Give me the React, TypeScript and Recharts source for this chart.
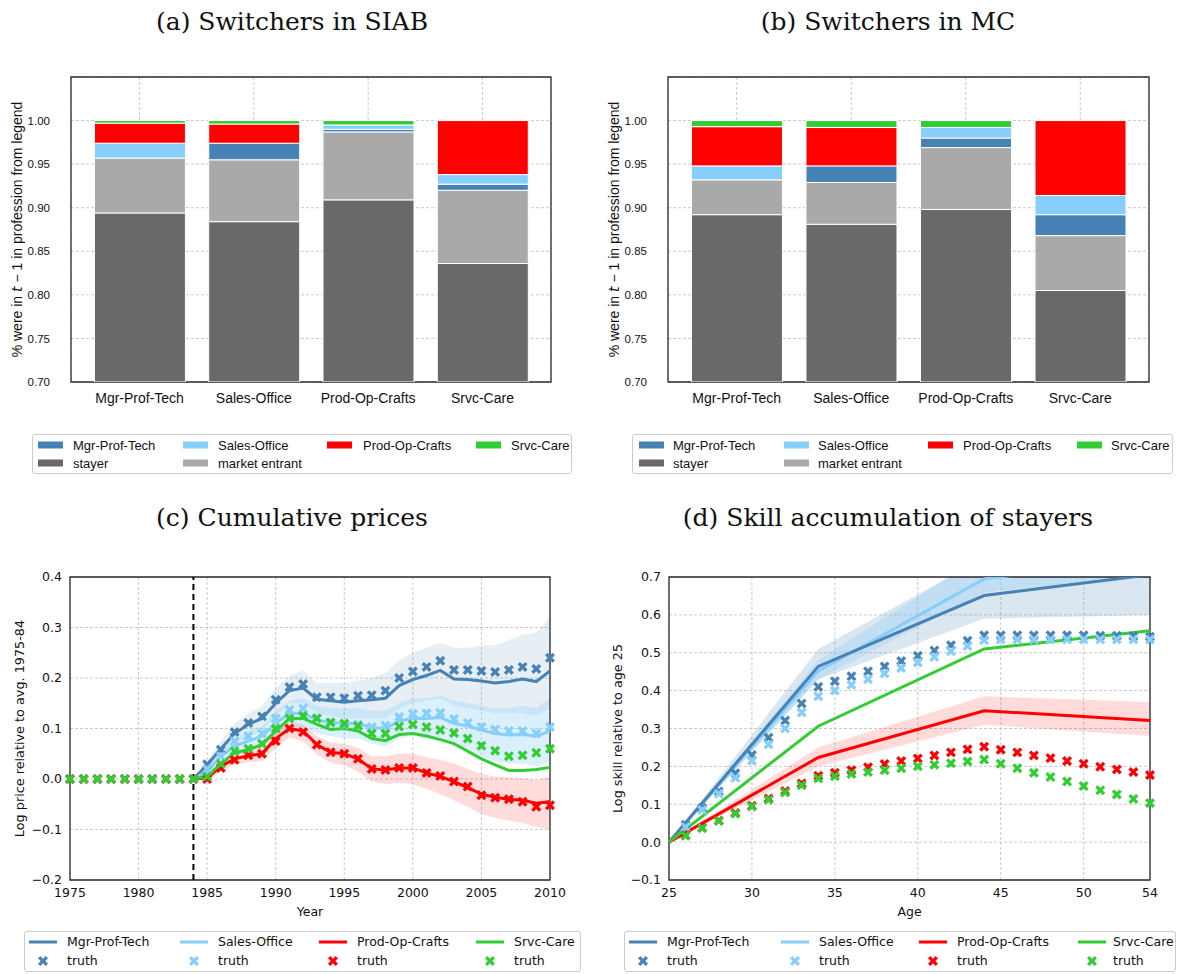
import React from 'react';
import {
  BarChart,
  Bar,
  ComposedChart,
  Line,
  Area,
  XAxis,
  YAxis,
  CartesianGrid,
  ReferenceArea,
  ReferenceLine,
} from 'recharts';

const STEEL = '#4682b4';
const SKY = '#87cefa';
const RED = '#ff0000';
const LIME = '#32cd32';
const DIM = '#696969';
const DARK = '#a9a9a9';

const SANS = '"Liberation Sans", Arial, sans-serif';
const DEJA = '"DejaVu Sans", sans-serif';
const SERIF = '"DejaVu Serif", serif';

// ---- (a)/(b) share of switchers by origin, one value per occupation ----
const occupations = ['Mgr-Prof-Tech', 'Sales-Office', 'Prod-Op-Crafts', 'Srvc-Care'];
const shareTicks = [0.7, 0.75, 0.8, 0.85, 0.9, 0.95, 1.0];

const siabStayer = [0.894, 0.884, 0.909, 0.836];
const siabEntrant = [0.063, 0.071, 0.078, 0.084];
const siabMgr = [0, 0.019, 0.003, 0.007];
const siabSales = [0.017, 0, 0.005, 0.011];
const siabProd = [0.023, 0.022, 0, 0.062];
const siabSrvc = [0.003, 0.004, 0.005, 0];

const mcStayer = [0.892, 0.881, 0.898, 0.805];
const mcEntrant = [0.04, 0.048, 0.071, 0.063];
const mcMgr = [0, 0.019, 0.011, 0.024];
const mcSales = [0.016, 0, 0.012, 0.022];
const mcProd = [0.045, 0.044, 0, 0.086];
const mcSrvc = [0.007, 0.008, 0.008, 0];

// ---- (c) cumulative prices ----
const years = [
  1975, 1976, 1977, 1978, 1979, 1980, 1981, 1982, 1983, 1984, 1985, 1986, 1987, 1988, 1989, 1990, 1991, 1992,
  1993, 1994, 1995, 1996, 1997, 1998, 1999, 2000, 2001, 2002, 2003, 2004, 2005, 2006, 2007, 2008, 2009, 2010,
];
const yearTicks = [1975, 1980, 1985, 1990, 1995, 2000, 2005, 2010];
const priceTicks = [-0.2, -0.1, 0, 0.1, 0.2, 0.3, 0.4];

const mgrPriceTruth = [
  0, 0, 0, 0, 0, 0, 0, 0, 0, 0, 0.029, 0.058, 0.093, 0.111, 0.124, 0.157, 0.182, 0.188, 0.162, 0.162, 0.16,
  0.165, 0.166, 0.175, 0.2, 0.213, 0.222, 0.234, 0.216, 0.216, 0.214, 0.212, 0.216, 0.222, 0.218, 0.24,
];
const salesPriceTruth = [
  0, 0, 0, 0, 0, 0, 0, 0, 0, 0, 0.02, 0.045, 0.075, 0.085, 0.09, 0.12, 0.137, 0.14, 0.121, 0.112, 0.108, 0.108,
  0.103, 0.106, 0.123, 0.129, 0.13, 0.131, 0.119, 0.111, 0.103, 0.098, 0.095, 0.095, 0.09, 0.103,
];
const prodPriceTruth = [
  0, 0, 0, 0, 0, 0, 0, 0, 0, 0, 0.0, 0.022, 0.038, 0.047, 0.05, 0.075, 0.1, 0.093, 0.068, 0.053, 0.05, 0.04,
  0.02, 0.018, 0.022, 0.022, 0.012, 0.006, -0.005, -0.015, -0.032, -0.037, -0.04, -0.045, -0.055, -0.052,
];
const srvcPriceTruth = [
  0, 0, 0, 0, 0, 0, 0, 0, 0, 0, 0.005, 0.03, 0.055, 0.06, 0.07, 0.1, 0.12, 0.125, 0.12, 0.112, 0.11, 0.105,
  0.09, 0.09, 0.104, 0.108, 0.103, 0.097, 0.091, 0.08, 0.066, 0.056, 0.045, 0.047, 0.052, 0.06,
];

// model estimates start in 1984
const modelYears = years.slice(years.indexOf(1984));
const mgrPrice = [
  0, 0.028, 0.06, 0.09, 0.108, 0.12, 0.15, 0.175, 0.18, 0.158, 0.155, 0.152, 0.155, 0.157, 0.16, 0.185, 0.197,
  0.205, 0.215, 0.198, 0.197, 0.194, 0.19, 0.193, 0.198, 0.193, 0.214,
];
const salesPrice = [
  0, 0.015, 0.045, 0.065, 0.075, 0.085, 0.11, 0.13, 0.13, 0.117, 0.112, 0.11, 0.11, 0.102, 0.1, 0.115, 0.12,
  0.12, 0.122, 0.11, 0.105, 0.097, 0.09, 0.087, 0.088, 0.085, 0.095,
];
const prodPrice = [
  0, 0.002, 0.025, 0.04, 0.046, 0.05, 0.08, 0.1, 0.095, 0.068, 0.053, 0.05, 0.04, 0.02, 0.018, 0.022, 0.022,
  0.012, 0.005, -0.005, -0.017, -0.03, -0.036, -0.04, -0.042, -0.048, -0.045,
];
const srvcPrice = [
  0, 0.005, 0.03, 0.052, 0.058, 0.068, 0.095, 0.12, 0.12, 0.108, 0.098, 0.1, 0.095, 0.08, 0.076, 0.088, 0.09,
  0.085, 0.078, 0.07, 0.055, 0.04, 0.028, 0.017, 0.017, 0.019, 0.023,
];
// bootstrap spread (envelope of the faint lines)
const mgrPriceHi = [
  0, 0.035, 0.075, 0.11, 0.13, 0.145, 0.18, 0.205, 0.215, 0.19, 0.19, 0.19, 0.195, 0.2, 0.21, 0.235, 0.25, 0.26,
  0.27, 0.26, 0.26, 0.265, 0.265, 0.275, 0.285, 0.29, 0.32,
];
const mgrPriceLo = [
  0, 0.02, 0.045, 0.07, 0.085, 0.095, 0.125, 0.15, 0.15, 0.13, 0.125, 0.12, 0.12, 0.12, 0.12, 0.14, 0.15, 0.155,
  0.16, 0.145, 0.14, 0.135, 0.13, 0.13, 0.13, 0.125, 0.14,
];
const salesPriceHi = [
  0, 0.025, 0.055, 0.08, 0.095, 0.105, 0.135, 0.155, 0.16, 0.145, 0.14, 0.14, 0.14, 0.135, 0.135, 0.15, 0.16,
  0.16, 0.165, 0.155, 0.15, 0.145, 0.14, 0.14, 0.145, 0.14, 0.16,
];
const salesPriceLo = [
  0, 0.005, 0.03, 0.05, 0.06, 0.065, 0.085, 0.105, 0.1, 0.09, 0.085, 0.08, 0.08, 0.07, 0.065, 0.08, 0.085, 0.08,
  0.08, 0.065, 0.055, 0.045, 0.035, 0.03, 0.03, 0.025, 0.035,
];
const prodPriceHi = [
  0, 0.01, 0.035, 0.052, 0.06, 0.066, 0.095, 0.112, 0.108, 0.085, 0.072, 0.07, 0.062, 0.045, 0.045, 0.05, 0.05,
  0.043, 0.038, 0.03, 0.02, 0.01, 0.005, 0.003, 0.002, -0.002, 0.005,
];
const prodPriceLo = [
  0, -0.005, 0.015, 0.028, 0.033, 0.035, 0.062, 0.082, 0.075, 0.048, 0.032, 0.027, 0.015, -0.005, -0.01, -0.008,
  -0.01, -0.02, -0.03, -0.042, -0.055, -0.07, -0.077, -0.082, -0.087, -0.095, -0.1,
];

// ---- (d) skill accumulation ----
const ages = [
  25, 26, 27, 28, 29, 30, 31, 32, 33, 34, 35, 36, 37, 38, 39, 40, 41, 42, 43, 44, 45, 46, 47, 48, 49, 50, 51, 52, 53, 54,
];
const ageTicks = [25, 30, 35, 40, 45, 50, 54];
const skillTicks = [-0.1, 0, 0.1, 0.2, 0.3, 0.4, 0.5, 0.6, 0.7];

const mgrSkillTruth = [
  null, 0.046, 0.09, 0.134, 0.182, 0.23, 0.276, 0.321, 0.366, 0.41, 0.425, 0.438, 0.451, 0.464, 0.478, 0.492,
  0.506, 0.52, 0.532, 0.546, 0.546, 0.546, 0.546, 0.546, 0.546, 0.546, 0.545, 0.545, 0.544, 0.542,
];
const salesSkillTruth = [
  null, 0.04, 0.085, 0.128, 0.17, 0.215, 0.258, 0.3, 0.342, 0.385, 0.4, 0.415, 0.43, 0.445, 0.46, 0.474, 0.489,
  0.504, 0.518, 0.533, 0.535, 0.535, 0.535, 0.535, 0.535, 0.535, 0.535, 0.535, 0.535, 0.535,
];
const prodSkillTruth = [
  null, 0.018, 0.038, 0.057, 0.077, 0.096, 0.115, 0.135, 0.155, 0.175, 0.183, 0.19, 0.198, 0.206, 0.214, 0.221,
  0.229, 0.237, 0.245, 0.252, 0.244, 0.237, 0.229, 0.222, 0.214, 0.207, 0.199, 0.192, 0.185, 0.177,
];
const srvcSkillTruth = [
  null, 0.017, 0.037, 0.056, 0.075, 0.094, 0.112, 0.131, 0.15, 0.168, 0.174, 0.18, 0.185, 0.19, 0.195, 0.2,
  0.204, 0.208, 0.213, 0.218, 0.207, 0.195, 0.183, 0.172, 0.16, 0.148, 0.137, 0.126, 0.114, 0.103,
];

// the estimated profiles are piecewise linear with knots at these ages
const skillKnots = [25, 34, 44, 54];
const mgrSkill = [0, 0.464, 0.651, 0.706];
const salesSkill = [0, 0.452, 0.695, 0.75];
const prodSkill = [0, 0.2235, 0.347, 0.321];
const srvcSkill = [0, 0.306, 0.51, 0.558];
const mgrSkillHi = [0, 0.51, 0.75, 0.8];
const mgrSkillLo = [0, 0.43, 0.59, 0.6];
const salesSkillHi = [0, 0.48, 0.76, 0.82];
const salesSkillLo = [0, 0.43, 0.66, 0.7];
const prodSkillHi = [0, 0.25, 0.385, 0.37];
const prodSkillLo = [0, 0.2, 0.31, 0.28];

// ---- tables for recharts ----
const siabRows = occupations.map((name, i) => ({
  x: i,
  name,
  stayer: siabStayer[i],
  entrant: siabEntrant[i],
  mgr: siabMgr[i],
  sales: siabSales[i],
  prod: siabProd[i],
  srvc: siabSrvc[i],
}));
const mcRows = occupations.map((name, i) => ({
  x: i,
  name,
  stayer: mcStayer[i],
  entrant: mcEntrant[i],
  mgr: mcMgr[i],
  sales: mcSales[i],
  prod: mcProd[i],
  srvc: mcSrvc[i],
}));

const priceTruthRows = years.map((year, i) => ({
  year,
  mgr: mgrPriceTruth[i],
  sales: salesPriceTruth[i],
  prod: prodPriceTruth[i],
  srvc: srvcPriceTruth[i],
}));
const priceModelRows = modelYears.map((year, i) => ({
  year,
  mgr: mgrPrice[i],
  sales: salesPrice[i],
  prod: prodPrice[i],
  srvc: srvcPrice[i],
  mgrBand: [mgrPriceLo[i], mgrPriceHi[i]],
  salesBand: [salesPriceLo[i], salesPriceHi[i]],
  prodBand: [prodPriceLo[i], prodPriceHi[i]],
}));

const skillTruthRows = ages.map((age, i) => ({
  age,
  mgr: mgrSkillTruth[i],
  sales: salesSkillTruth[i],
  prod: prodSkillTruth[i],
  srvc: srvcSkillTruth[i],
}));
const skillModelRows = skillKnots.map((age, i) => ({
  age,
  mgr: mgrSkill[i],
  sales: salesSkill[i],
  prod: prodSkill[i],
  srvc: srvcSkill[i],
  mgrBand: [mgrSkillLo[i], mgrSkillHi[i]],
  salesBand: [salesSkillLo[i], salesSkillHi[i]],
  prodBand: [prodSkillLo[i], prodSkillHi[i]],
}));

// filled "X" marker, i.e. a plus sign turned by 45 degrees
const crossPoints = (cx: number, cy: number, r = 5.4, w = 1.65) => {
  const pts = [
    [-w, -r], [w, -r], [w, -w], [r, -w], [r, w], [w, w],
    [w, r], [-w, r], [-w, w], [-r, w], [-r, -w], [-w, -w],
  ];
  return pts
    .map(([x, y]) => `${(cx + (x - y) * Math.SQRT1_2).toFixed(2)},${(cy + (x + y) * Math.SQRT1_2).toFixed(2)}`)
    .join(' ');
};

const crossDot = (color: string) => (props: any) => {
  const { cx, cy, index, value } = props;
  if (cx == null || cy == null || value == null) return <g key={`n-${index}`} />;
  return <polygon key={`x-${index}`} points={crossPoints(cx, cy)} fill={color} />;
};

const YTitle = (props: any) => {
  const { viewBox, dx = 0, font, size, children } = props;
  const vb = viewBox || { x: 0, y: 0, width: 0, height: 0 };
  const x = vb.x + dx;
  const y = vb.y + vb.height / 2;
  return (
    <text
      x={x}
      y={y}
      transform={`rotate(-90 ${x} ${y})`}
      textAnchor="middle"
      dominantBaseline="central"
      fontFamily={font}
      fontSize={size}
      fill="#111"
    >
      {children}
    </text>
  );
};

const shareTitle = (
  <YTitle dx={1} font={SANS} size={14}>
    % were in <tspan fontStyle="italic" fontFamily={DEJA}>t</tspan> − 1 in profession from legend
  </YTitle>
);

const gridProps = { stroke: '#bdbdbd', strokeDasharray: '3 2', strokeWidth: 0.8 };
const frameProps = { fill: 'none', stroke: '#2b2b2b', strokeWidth: 1.3, ifOverflow: 'visible' as const };

type LegendEntry = { label: string; color: string; kind: 'patch' | 'line' | 'cross'; col: number; row: number };

const shareLegend: LegendEntry[] = [
  { label: 'Mgr-Prof-Tech', color: STEEL, kind: 'patch', col: 0, row: 0 },
  { label: 'stayer', color: DIM, kind: 'patch', col: 0, row: 1 },
  { label: 'Sales-Office', color: SKY, kind: 'patch', col: 1, row: 0 },
  { label: 'market entrant', color: DARK, kind: 'patch', col: 1, row: 1 },
  { label: 'Prod-Op-Crafts', color: RED, kind: 'patch', col: 2, row: 0 },
  { label: 'Srvc-Care', color: LIME, kind: 'patch', col: 3, row: 0 },
];
const lineLegend: LegendEntry[] = [
  { label: 'Mgr-Prof-Tech', color: STEEL, kind: 'line', col: 0, row: 0 },
  { label: 'truth', color: STEEL, kind: 'cross', col: 0, row: 1 },
  { label: 'Sales-Office', color: SKY, kind: 'line', col: 1, row: 0 },
  { label: 'truth', color: SKY, kind: 'cross', col: 1, row: 1 },
  { label: 'Prod-Op-Crafts', color: RED, kind: 'line', col: 2, row: 0 },
  { label: 'truth', color: RED, kind: 'cross', col: 2, row: 1 },
  { label: 'Srvc-Care', color: LIME, kind: 'line', col: 3, row: 0 },
  { label: 'truth', color: LIME, kind: 'cross', col: 3, row: 1 },
];

function BoxLegend(props: {
  left: number;
  top: number;
  width: number;
  height: number;
  entries: LegendEntry[];
  handleX: number[];
  textX: number[];
  rowY: number[];
  handleW: number;
  font: string;
  fontSize: number;
}) {
  const { left, top, width, height, entries, handleX, textX, rowY, handleW, font, fontSize } = props;
  return (
    <div
      style={{
        position: 'absolute',
        left,
        top,
        width,
        height,
        border: '1px solid #cccccc',
        borderRadius: 3,
        background: '#fff',
        boxSizing: 'border-box',
      }}
    >
      {entries.map((e) => (
        <React.Fragment key={`${e.label}-${e.col}-${e.row}`}>
          <svg
            width={handleW}
            height={14}
            style={{ position: 'absolute', left: handleX[e.col], top: rowY[e.row] - 7, overflow: 'visible' }}
          >
            {e.kind === 'patch' && <rect x={0} y={3.5} width={handleW} height={7} fill={e.color} />}
            {e.kind === 'line' && <line x1={0} x2={handleW} y1={7} y2={7} stroke={e.color} strokeWidth={3} />}
            {e.kind === 'cross' && <polygon points={crossPoints(handleW / 2, 7)} fill={e.color} />}
          </svg>
          <span
            style={{
              position: 'absolute',
              left: textX[e.col],
              top: rowY[e.row],
              transform: 'translateY(-50%)',
              fontFamily: font,
              fontSize,
              lineHeight: 1,
              whiteSpace: 'nowrap',
              color: '#111',
            }}
          >
            {e.label}
          </span>
        </React.Fragment>
      ))}
    </div>
  );
}

function Title({ center, top, text }: { center: number; top: number; text: string }) {
  return (
    <div
      style={{
        position: 'absolute',
        left: center - 300,
        top,
        width: 600,
        textAlign: 'center',
        fontFamily: SERIF,
        fontSize: 25,
        lineHeight: '30px',
        color: '#111',
        whiteSpace: 'nowrap',
      }}
    >
      {text}
    </div>
  );
}

function SharePanel({ rows, left, marginLeft, marginRight, width }: any) {
  return (
    <div style={{ position: 'absolute', left, top: 60 }}>
      <BarChart
        width={width}
        height={360}
        data={rows}
        margin={{ top: 17, right: marginRight, bottom: 0, left: marginLeft }}
      >
        <CartesianGrid {...gridProps} />
        <XAxis
          dataKey="x"
          type="number"
          domain={[-0.6, 3.6]}
          ticks={[0, 1, 2, 3]}
          tickFormatter={(v: number) => occupations[v] ?? ''}
          height={38}
          tickSize={0}
          tickMargin={11}
          axisLine={false}
          tick={{ fontFamily: SANS, fontSize: 14, fill: '#111' }}
          allowDataOverflow
        />
        <YAxis
          type="number"
          domain={[0.7, 1.05]}
          ticks={shareTicks}
          tickFormatter={(v: number) => v.toFixed(2)}
          width={55}
          tickSize={0}
          tickMargin={21}
          axisLine={false}
          allowDataOverflow
          tick={{ fontFamily: SANS, fontSize: 11.5, fill: '#111' }}
          label={shareTitle}
        />
        <Bar dataKey="stayer" stackId="s" fill={DIM} stroke="#fff" strokeWidth={1} barSize={91} isAnimationActive={false} />
        <Bar dataKey="entrant" stackId="s" fill={DARK} stroke="#fff" strokeWidth={1} barSize={91} isAnimationActive={false} />
        <Bar dataKey="mgr" stackId="s" fill={STEEL} stroke="#fff" strokeWidth={1} barSize={91} isAnimationActive={false} />
        <Bar dataKey="sales" stackId="s" fill={SKY} stroke="#fff" strokeWidth={1} barSize={91} isAnimationActive={false} />
        <Bar dataKey="prod" stackId="s" fill={RED} stroke="#fff" strokeWidth={1} barSize={91} isAnimationActive={false} />
        <Bar dataKey="srvc" stackId="s" fill={LIME} stroke="#fff" strokeWidth={1} barSize={91} isAnimationActive={false} />
        <ReferenceArea x1={-0.6} x2={3.6} y1={0.7} y2={1.05} {...frameProps} />
      </BarChart>
    </div>
  );
}

const tickFmt = (digits: number) => (v: number) => (v < 0 ? '\u2212' + Math.abs(v).toFixed(digits) : v.toFixed(digits));
const dejaTick = { fontFamily: DEJA, fontSize: 12.5, fill: '#111' };

export default function App() {
  return (
    <div style={{ position: 'absolute', left: 0, top: 0, width: 1177, height: 974, background: '#fff' }}>
      <Title center={292} top={7} text="(a) Switchers in SIAB" />
      <Title center={888} top={7} text="(b) Switchers in MC" />
      <Title center={292} top={503} text="(c) Cumulative prices" />
      <Title center={888} top={503} text="(d) Skill accumulation of stayers" />

      <SharePanel rows={siabRows} left={0} width={580} marginLeft={16} marginRight={29} />
      <SharePanel rows={mcRows} left={600} width={577} marginLeft={13} marginRight={28} />

      <BoxLegend
        left={32}
        top={434}
        width={540}
        height={40}
        entries={shareLegend}
        handleX={[5, 150, 294, 443]}
        textX={[40, 185, 330, 478]}
        rowY={[10, 28]}
        handleW={25}
        font={SANS}
        fontSize={13}
      />
      <BoxLegend
        left={632}
        top={434}
        width={541}
        height={40}
        entries={shareLegend}
        handleX={[6, 151, 295, 444]}
        textX={[40, 185, 330, 478]}
        rowY={[10, 28]}
        handleW={25}
        font={SANS}
        fontSize={13}
      />

      {/* (c) cumulative prices */}
      <div style={{ position: 'absolute', left: 0, top: 560 }}>
        <ComposedChart width={580} height={360} data={priceTruthRows} margin={{ top: 17, right: 30, bottom: 0, left: 20 }}>
          <CartesianGrid {...gridProps} />
          <XAxis
            dataKey="year"
            type="number"
            domain={[1975, 2010]}
            ticks={yearTicks}
            height={40}
            tickSize={0}
            tickMargin={8}
            axisLine={false}
            tick={dejaTick}
            label={{ value: 'Year', position: 'insideBottom', offset: 4, fontFamily: DEJA, fontSize: 12.5, fill: '#111' }}
          />
          <YAxis
            type="number"
            domain={[-0.2, 0.4]}
            ticks={priceTicks}
            tickFormatter={tickFmt(1)}
            width={50}
            tickSize={0}
            tickMargin={8}
            axisLine={false}
            allowDataOverflow
            tick={dejaTick}
            label={
              <YTitle dx={-1} font={DEJA} size={12.8}>
                Log price relative to avg. 1975-84
              </YTitle>
            }
          />
          <Area data={priceModelRows} dataKey="mgrBand" stroke="none" fill={STEEL} fillOpacity={0.13} isAnimationActive={false} />
          <Area data={priceModelRows} dataKey="salesBand" stroke="none" fill={SKY} fillOpacity={0.3} isAnimationActive={false} />
          <Area data={priceModelRows} dataKey="prodBand" stroke="none" fill={RED} fillOpacity={0.14} isAnimationActive={false} />
          <Line data={priceModelRows} dataKey="mgr" stroke={STEEL} strokeWidth={3} dot={false} activeDot={false} isAnimationActive={false} />
          <Line dataKey="mgr" stroke="none" dot={crossDot(STEEL)} activeDot={false} isAnimationActive={false} />
          <Line data={priceModelRows} dataKey="sales" stroke={SKY} strokeWidth={3} dot={false} activeDot={false} isAnimationActive={false} />
          <Line dataKey="sales" stroke="none" dot={crossDot(SKY)} activeDot={false} isAnimationActive={false} />
          <Line data={priceModelRows} dataKey="prod" stroke={RED} strokeWidth={3} dot={false} activeDot={false} isAnimationActive={false} />
          <Line dataKey="prod" stroke="none" dot={crossDot(RED)} activeDot={false} isAnimationActive={false} />
          <Line data={priceModelRows} dataKey="srvc" stroke={LIME} strokeWidth={3} dot={false} activeDot={false} isAnimationActive={false} />
          <Line dataKey="srvc" stroke="none" dot={crossDot(LIME)} activeDot={false} isAnimationActive={false} />
          <ReferenceLine x={1984} stroke="#000" strokeWidth={2} strokeDasharray="6 4" />
          <ReferenceArea x1={1975} x2={2010} y1={-0.2} y2={0.4} {...frameProps} />
        </ComposedChart>
      </div>

      {/* (d) skill accumulation */}
      <div style={{ position: 'absolute', left: 600, top: 560 }}>
        <ComposedChart width={577} height={360} data={skillTruthRows} margin={{ top: 17, right: 27, bottom: 0, left: 19 }}>
          <CartesianGrid {...gridProps} />
          <XAxis
            dataKey="age"
            type="number"
            domain={[25, 54]}
            ticks={ageTicks}
            height={40}
            tickSize={0}
            tickMargin={8}
            axisLine={false}
            tick={dejaTick}
            label={{ value: 'Age', position: 'insideBottom', offset: 4, fontFamily: DEJA, fontSize: 12.5, fill: '#111' }}
          />
          <YAxis
            type="number"
            domain={[-0.1, 0.7]}
            ticks={skillTicks}
            tickFormatter={tickFmt(1)}
            width={50}
            tickSize={0}
            tickMargin={8}
            axisLine={false}
            allowDataOverflow
            tick={dejaTick}
            label={
              <YTitle dx={-2} font={DEJA} size={12.8}>
                Log skill relative to age 25
              </YTitle>
            }
          />
          <Area data={skillModelRows} dataKey="mgrBand" stroke="none" fill={STEEL} fillOpacity={0.2} isAnimationActive={false} />
          <Area data={skillModelRows} dataKey="salesBand" stroke="none" fill={SKY} fillOpacity={0.3} isAnimationActive={false} />
          <Area data={skillModelRows} dataKey="prodBand" stroke="none" fill={RED} fillOpacity={0.14} isAnimationActive={false} />
          <Line data={skillModelRows} dataKey="sales" stroke={SKY} strokeWidth={3} dot={false} activeDot={false} isAnimationActive={false} />
          <Line data={skillModelRows} dataKey="mgr" stroke={STEEL} strokeWidth={3} dot={false} activeDot={false} isAnimationActive={false} />
          <Line dataKey="mgr" stroke="none" dot={crossDot(STEEL)} activeDot={false} isAnimationActive={false} />
          <Line dataKey="sales" stroke="none" dot={crossDot(SKY)} activeDot={false} isAnimationActive={false} />
          <Line data={skillModelRows} dataKey="prod" stroke={RED} strokeWidth={3} dot={false} activeDot={false} isAnimationActive={false} />
          <Line dataKey="prod" stroke="none" dot={crossDot(RED)} activeDot={false} isAnimationActive={false} />
          <Line data={skillModelRows} dataKey="srvc" stroke={LIME} strokeWidth={3} dot={false} activeDot={false} isAnimationActive={false} />
          <Line dataKey="srvc" stroke="none" dot={crossDot(LIME)} activeDot={false} isAnimationActive={false} />
          <ReferenceArea x1={25} x2={54} y1={-0.1} y2={0.7} {...frameProps} />
        </ComposedChart>
      </div>

      <BoxLegend
        left={24}
        top={931}
        width={557}
        height={41}
        entries={lineLegend}
        handleX={[4, 155, 294, 451]}
        textX={[42, 193, 332, 489]}
        rowY={[10, 29]}
        handleW={28}
        font={DEJA}
        fontSize={12.5}
      />
      <BoxLegend
        left={624}
        top={931}
        width={552}
        height={41}
        entries={lineLegend}
        handleX={[4, 156, 294, 453]}
        textX={[42, 194, 332, 488]}
        rowY={[10, 29]}
        handleW={28}
        font={DEJA}
        fontSize={12.5}
      />
    </div>
  );
}
